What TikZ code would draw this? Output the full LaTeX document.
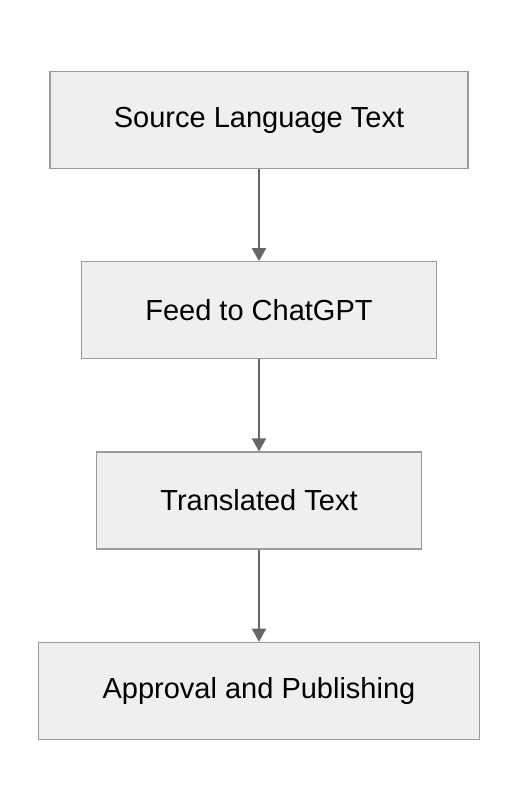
\documentclass[tikz,border=0pt]{standalone}
\usepackage{fontspec}
\setmainfont{Liberation Sans}
\usepackage{tikz}
\usetikzlibrary{positioning,arrows.meta}

\definecolor{boxfill}{HTML}{EFEFEF}
\definecolor{boxline}{HTML}{9A9A9A}
\definecolor{arrowline}{HTML}{666666}

\begin{document}
\begin{tikzpicture}[
	stage/.style={
		draw=boxline,
		fill=boxfill,
		line width=1.3pt,
		rectangle,
		minimum height=97pt,
		inner xsep=64pt,
		font=\fontsize{29}{34}\selectfont
	},
	flow/.style={
		draw=arrowline,
		line width=1.8pt,
		-{Triangle[length=13pt,width=14pt]}
	},
	node distance=92pt
	]
	\useasboundingbox (0,0) rectangle (518pt,812pt);
	\node[stage] (source) at (259pt,692pt) {Source Language Text};
	\node[stage, below=of source] (feed) {Feed to ChatGPT};
	\node[stage, below=of feed] (translated) {Translated Text};
	\node[stage, below=of translated] (approval) {Approval and Publishing};
	% arrows between the stages
	\draw[flow] (source) -- (feed);
	\draw[flow] (feed) -- (translated);
	\draw[flow] (translated) -- (approval);
\end{tikzpicture}
\end{document}
